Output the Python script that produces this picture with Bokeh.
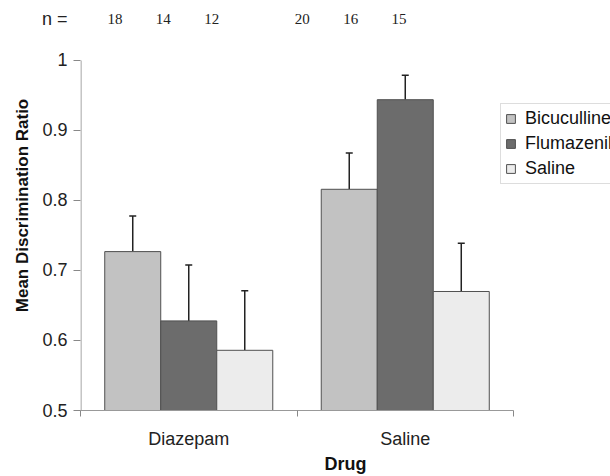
from bokeh.plotting import figure
from bokeh.models import (Range1d, FixedTicker, NumeralTickFormatter, Whisker, TeeHead,
                          ColumnDataSource, Label, Legend, LegendItem)
from bokeh.embed import file_html
from bokeh.resources import INLINE

# ---- data ----
drugs = ["Diazepam", "Saline"]
treatments = ["Bicuculline", "Flumazenil", "Saline"]
bicuculline_mean = [0.727, 0.816]
flumazenil_mean = [0.628, 0.944]
saline_mean = [0.586, 0.670]
bicuculline_upper = [0.778, 0.868]
flumazenil_upper = [0.708, 0.979]
saline_upper = [0.671, 0.739]
bicuculline_n = [18, 20]
flumazenil_n = [14, 16]
saline_n = [12, 15]
y_ticks = [0.5, 0.6, 0.7, 0.8, 0.9, 1.0]

means = [bicuculline_mean, flumazenil_mean, saline_mean]
uppers = [bicuculline_upper, flumazenil_upper, saline_upper]
counts = [bicuculline_n, flumazenil_n, saline_n]
colors = ["#c2c2c2", "#6c6c6c", "#ececec"]

BAR_W = 0.2587
offsets = [-BAR_W, 0.0, BAR_W]
N_ROW_Y = 1.0597

FONT = "Liberation Sans"

p = figure(width=610, height=476, output_backend="svg", toolbar_location=None,
           x_range=Range1d(0, 2.448), y_range=Range1d(0.5, 1.0857),
           min_border_left=80, min_border_right=0, min_border_top=0,
           min_border_bottom=64)
p.outline_line_color = None
p.xgrid.visible = False
p.ygrid.visible = False
p.background_fill_color = "white"

legend_items = []
for k, t in enumerate(treatments):
    xs = [i + 0.5 + offsets[k] for i in range(len(drugs))]
    src = ColumnDataSource(dict(x=xs, top=means[k], up=uppers[k]))
    r = p.vbar(x="x", top="top", bottom=0.5, width=BAR_W, source=src,
               fill_color=colors[k], line_color="#505050", line_width=1)
    legend_items.append(LegendItem(label=t, renderers=[r]))
    w = Whisker(base="x", lower="top", upper="up", source=src,
                line_color="#222222", line_width=1.5,
                lower_head=None,
                upper_head=TeeHead(size=7, line_color="#222222", line_width=1.5))
    p.add_layout(w)

# n row
a, b = 0.865, -0.0498
for k in range(3):
    for i in range(len(drugs)):
        c = i + 0.5 + offsets[k]
        p.add_layout(Label(x=a * c + b, y=N_ROW_Y, text=str(counts[k][i]),
                           text_font="Liberation Serif", text_font_size="15px",
                           text_align="center", text_baseline="middle",
                           text_color="#222222"))

# y axis line (drawn as a segment so the axis itself can also carry the "n =" label)
p.segment(x0=[0.0023], y0=[y_ticks[0]], x1=[0.0023], y1=[y_ticks[-1]],
          line_color="#888888", line_width=1)

ya = p.yaxis[0]
ya.bounds = (0.5, N_ROW_Y)
ya.ticker = FixedTicker(ticks=y_ticks + [N_ROW_Y], minor_ticks=y_ticks)
ya.formatter = NumeralTickFormatter(format="0.[0]")
ya.major_label_overrides = {N_ROW_Y: "n ="}
ya.axis_line_color = None
ya.major_tick_line_color = None
ya.major_tick_in = 0
ya.major_tick_out = 7
ya.minor_tick_in = 0
ya.minor_tick_out = 7
ya.minor_tick_line_color = "#888888"
ya.major_label_standoff = 6
ya.major_label_text_font = FONT
ya.major_label_text_font_size = "18px"
ya.major_label_text_color = "#222222"
ya.axis_label = "Mean Discrimination Ratio"
ya.axis_label_text_font = FONT
ya.axis_label_text_font_size = "17px"
ya.axis_label_text_font_style = "bold"
ya.axis_label_text_color = "#111111"
ya.axis_label_standoff = 7

# x axis
xa = p.xaxis[0]
xa.bounds = (0, 2)
xa.ticker = FixedTicker(ticks=[i + 0.5 for i in range(len(drugs))],
                        minor_ticks=list(range(len(drugs) + 1)))
xa.major_label_overrides = {i + 0.5: d for i, d in enumerate(drugs)}
xa.major_tick_in = 0
xa.major_tick_out = 0
xa.major_tick_line_color = None
xa.minor_tick_in = 0
xa.minor_tick_out = 6
xa.minor_tick_line_color = "#888888"
xa.axis_line_color = "#999999"
xa.major_label_standoff = 12
xa.major_label_text_font = FONT
xa.major_label_text_font_size = "18px"
xa.major_label_text_color = "#222222"
xa.axis_label = "Drug"
xa.axis_label_text_font = FONT
xa.axis_label_text_font_size = "18px"
xa.axis_label_text_font_style = "bold"
xa.axis_label_text_color = "#111111"
xa.axis_label_standoff = 2

legend = Legend(items=legend_items, location=(420, 226),
                label_text_font=FONT, label_text_font_size="18px",
                label_text_color="#111111",
                glyph_width=11, glyph_height=11, label_height=20,
                spacing=4, padding=4, margin=0, label_standoff=9,
                border_line_color="#bbbbbb", border_line_width=1,
                background_fill_color="white", background_fill_alpha=1)
p.add_layout(legend)

open("out.html", "w").write(file_html(p, INLINE))
